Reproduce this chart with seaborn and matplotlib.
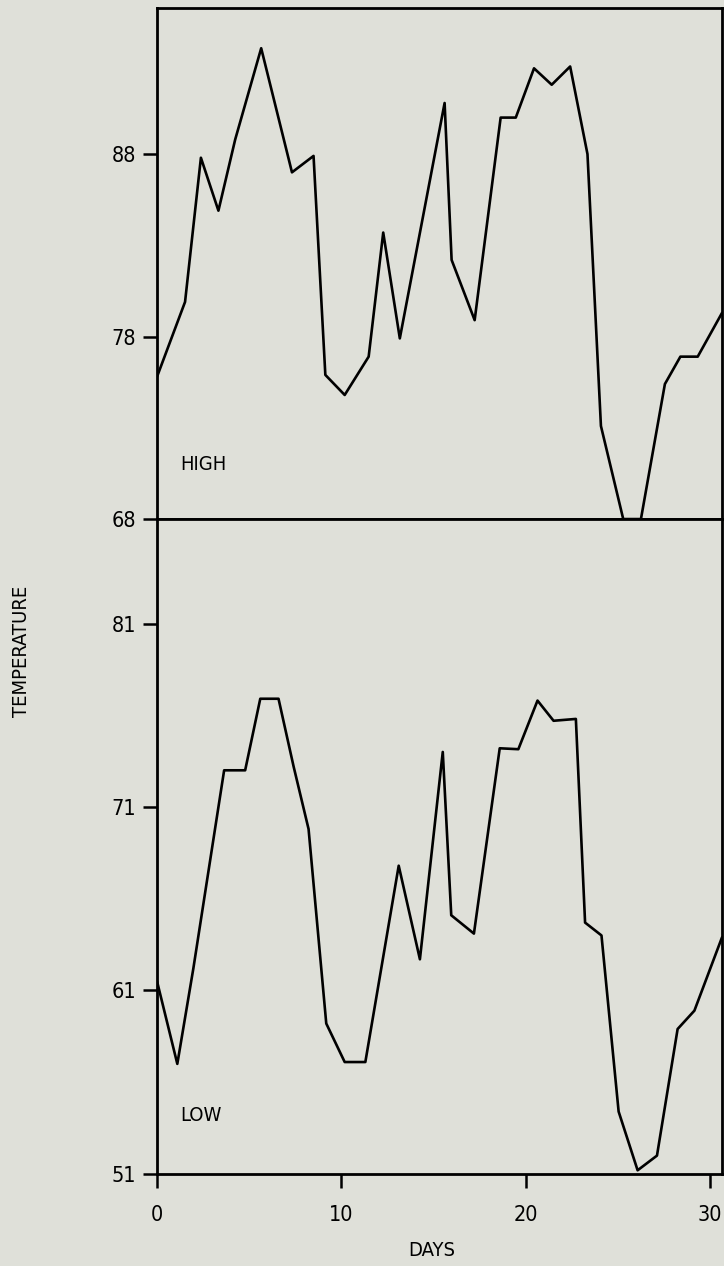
import matplotlib
matplotlib.use("Agg")
import matplotlib.pyplot as plt
import seaborn as sns
import pandas as pd

# Daily high temperatures (day, degrees)
high_days = [0.0, 1.52, 2.38, 3.33, 4.24, 5.65, 7.32, 8.49, 9.13, 10.18, 11.48,
             12.27, 13.17, 15.6, 15.98, 17.23, 18.64, 19.46, 20.45, 21.41, 22.41,
             23.35, 24.08, 25.29, 26.25, 27.55, 28.39, 29.33, 30.65]
high_temps = [75.8, 79.9, 87.8, 84.9, 88.8, 93.8, 87.0, 87.9, 75.9, 74.8, 76.9,
              83.7, 77.9, 90.8, 82.2, 78.9, 90.0, 90.0, 92.7, 91.8, 92.8,
              88.0, 73.1, 68.0, 68.0, 75.4, 76.9, 76.9, 79.3]

# Daily low temperatures (day, degrees)
low_days = [0.0, 1.10, 1.97, 3.64, 4.78, 5.60, 6.59, 7.41, 8.22, 9.18, 10.18,
            11.30, 13.11, 14.26, 15.5, 15.96, 17.19, 18.59, 19.60, 20.64, 21.51,
            22.72, 23.22, 24.11, 25.04, 26.07, 27.12, 28.24, 29.15, 30.65]
low_temps = [61.5, 57.0, 62.2, 73.0, 73.0, 76.9, 76.9, 73.2, 69.8, 59.2, 57.1,
             57.1, 67.8, 62.7, 74.0, 65.1, 64.1, 74.2, 74.15, 76.8, 75.7,
             75.8, 64.7, 64.0, 54.4, 51.2, 52.0, 58.9, 59.9, 63.9]

high_ticks = [68, 78, 88]
low_ticks = [51, 61, 71, 81]
x_ticks = [0, 10, 20, 30]

high_df = pd.DataFrame({"day": high_days, "temp": high_temps})
low_df = pd.DataFrame({"day": low_days, "temp": low_temps})

sns.set_style("ticks")
plt.rcParams["font.family"] = ["DejaVu Sans"]
plt.rcParams["font.stretch"] = "condensed"
plt.rcParams["text.color"] = "black"

bg = "#dfe0d9"
fig = plt.figure(figsize=(7.24, 12.66), dpi=100, facecolor=bg)

ax_hi = fig.add_axes([0.2169, 0.5900, 0.7804, 0.4036])
ax_lo = fig.add_axes([0.2169, 0.0727, 0.7804, 0.5174])

for ax, df in ((ax_hi, high_df), (ax_lo, low_df)):
    ax.set_facecolor(bg)
    sns.lineplot(data=df, x="day", y="temp", ax=ax, color="black",
                 linewidth=1.9, sort=False, estimator=None)
    ax.set_xlim(0, 30.65)
    for s in ax.spines.values():
        s.set_color("black")
        s.set_linewidth(2.0)
    ax.set_xlabel("")
    ax.set_ylabel("")
    ax.tick_params(axis="both", direction="out", length=10, width=1.8,
                   colors="black", labelsize=15.5, pad=5)

ax_hi.set_ylim(68, 96.0)
ax_hi.set_yticks(high_ticks)
ax_hi.set_xticks([])

ax_lo.set_ylim(51, 86.7)
ax_lo.set_yticks(low_ticks)
ax_lo.set_xticks(x_ticks)
ax_lo.tick_params(axis="x", pad=12)

ax_hi.text(0.041, 0.106, "HIGH", transform=ax_hi.transAxes, fontsize=14.5,
           ha="left", va="center", color="black")
ax_lo.text(0.041, 0.09, "LOW", transform=ax_lo.transAxes, fontsize=14.5,
           ha="left", va="center", color="black")

fig.text(432 / 724, 1 - 1251 / 1266, "DAYS", ha="center", va="center",
         fontsize=14.5, color="black")
fig.text(22 / 724, 1 - 651 / 1266, "TEMPERATURE", ha="center", va="center",
         rotation=90, fontsize=14.5, color="black")

fig.savefig("out.png", dpi=100, facecolor=bg)
